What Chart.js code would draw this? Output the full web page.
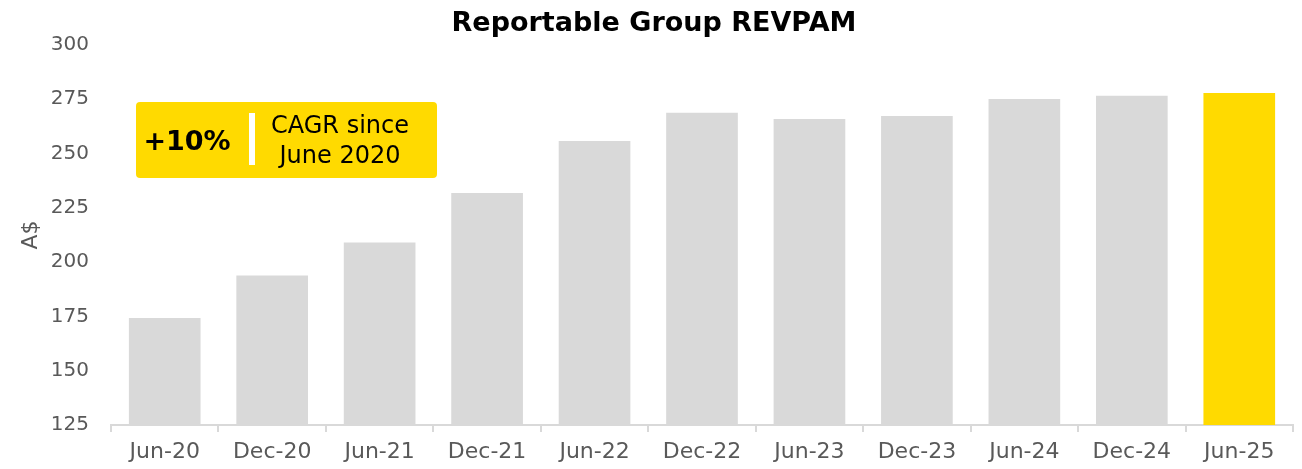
<!DOCTYPE html>
<html>
<head>
<meta charset="utf-8">
<script src="https://cdn.jsdelivr.net/npm/chart.js@4/dist/chart.umd.min.js"></script>
<style>
    html, body { margin: 0; padding: 0; background: #fff; }
    #wrap { width: 1302px; height: 469px; position: relative; }
</style>
</head>
<body>
<div id="wrap"><canvas id="chart"></canvas></div>
<script>
// chart data
var periods = ['Jun-20', 'Dec-20', 'Jun-21', 'Dec-21', 'Jun-22', 'Dec-22', 'Jun-23', 'Dec-23', 'Jun-24', 'Dec-24', 'Jun-25'];
var revpam = [174.3, 193.9, 209.1, 231.8, 255.8, 268.8, 265.9, 267.3, 275.1, 276.6, 277.9];
var yTicks = [125, 150, 175, 200, 225, 250, 275, 300];

var titleText = 'Reportable Group REVPAM';
var calloutBig = '+10%';
var calloutLines = ['CAGR since', 'June 2020'];

var GREY = '#d9d9d9', YELLOW = '#ffda00', LABEL = '#595959';
var FONT = '"DejaVu Sans", sans-serif';

function barColors()
{
    return revpam.map(function (v, i)
    {
        return i == revpam.length - 1 ? YELLOW : GREY;
    });
}

// title + CAGR box, drawn on top of the canvas
var overlay = {
    id: 'overlay',
    afterDraw: function (chart)
    {
        var ctx = chart.ctx, area = chart.chartArea;

        ctx.save();
        ctx.fillStyle = '#000';
        ctx.font = 'bold 27px ' + FONT;
        ctx.textAlign = 'center';
        ctx.textBaseline = 'middle';
        ctx.fillText(titleText, chart.width / 2 + 3, 24);

        var x = area.left + 25, y = 102, w = 301, h = 76;
        ctx.fillStyle = YELLOW;
        ctx.beginPath();
        ctx.roundRect(x, y, w, h, 4);
        ctx.fill();

        ctx.fillStyle = '#fff';
        ctx.fillRect(x + 113, y + 11, 6, 52);

        ctx.fillStyle = '#000';
        ctx.font = 'bold 27px ' + FONT;
        ctx.fillText(calloutBig, x + 51, y + 41);

        ctx.font = '24px ' + FONT;
        ctx.fillText(calloutLines[0], x + 204, y + 25);
        ctx.fillText(calloutLines[1], x + 204, y + 55);
        ctx.restore();
    }
};

new Chart(document.getElementById('chart'), {
    type: 'bar',
    data: {
        labels: periods,
        datasets: [{
            data: revpam,
            backgroundColor: barColors(),
            borderWidth: 0,
            barPercentage: 0.667,
            categoryPercentage: 1
        }]
    },
    options: {
        responsive: true,
        maintainAspectRatio: false,
        animation: false,
        layout: { padding: { top: 45, right: 9, bottom: 0, left: 0 } },
        plugins: {
            legend: { display: false },
            title: { display: false },
            tooltip: { enabled: false }
        },
        scales: {
            x: {
                offset: true,
                grid: { drawOnChartArea: false, drawTicks: true, tickLength: 7, color: GREY, lineWidth: 2, offset: true },
                border: { color: GREY, width: 2 },
                ticks: { color: LABEL, font: { family: FONT, size: 22 }, padding: 7 },
                afterFit: function (scale) { scale.height = 44; }
            },
            y: {
                min: 125,
                max: 300,
                afterBuildTicks: function (scale)
                {
                    scale.ticks = yTicks.map(function (v) { return { value: v }; });
                },
                grid: { display: false, drawTicks: false },
                border: { display: false },
                ticks: { color: LABEL, font: { family: FONT, size: 20 }, padding: 22 },
                title: { display: true, text: 'A$', color: LABEL, font: { family: FONT, size: 22 }, padding: { top: 18, bottom: 0 } },
                afterFit: function (scale) { scale.width = 111; }
            }
        }
    },
    plugins: [overlay]
});
</script>
</body>
</html>
